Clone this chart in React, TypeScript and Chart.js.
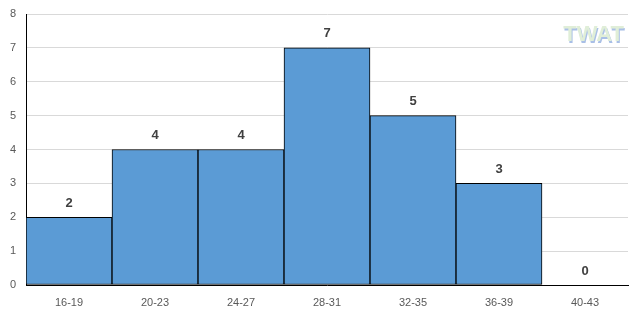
import React, { useEffect, useRef } from "react";
import { Chart, registerables } from "chart.js";

Chart.register(...registerables);

const categories = ["16-19", "20-23", "24-27", "28-31", "32-35", "36-39", "40-43"];
const counts = [2, 4, 4, 7, 5, 3, 0];
const yMax = 8;
const watermark = "TWAT";

const FONT = "'Liberation Sans', Arial, sans-serif";

const labelPlugin = {
  id: "barLabels",
  afterDatasetsDraw(chart: any) {
    const ctx = chart.ctx;
    const meta = chart.getDatasetMeta(0);
    ctx.save();
    ctx.font = `bold 13px ${FONT}`;
    ctx.fillStyle = "#404040";
    ctx.textAlign = "center";
    ctx.textBaseline = "middle";
    meta.data.forEach((bar: any, i: number) => {
      ctx.fillText(String(counts[i]), bar.x, bar.y - 14);
    });
    ctx.restore();
  },
};

const watermarkPlugin = {
  id: "watermark",
  afterDraw(chart: any) {
    const ctx = chart.ctx;
    const area = chart.chartArea;
    ctx.save();
    ctx.font = `bold 22px ${FONT}`;
    ctx.textAlign = "right";
    ctx.textBaseline = "alphabetic";
    const x = area.right - 4;
    const y = area.top + 27;
    ctx.fillStyle = "#a9bfe6";
    ctx.fillText(watermark, x + 1, y + 1.5);
    ctx.fillStyle = "#e0eed8";
    ctx.fillText(watermark, x, y);
    ctx.restore();
  },
};

export default function App() {
  const ref = useRef<HTMLCanvasElement>(null);
  useEffect(() => {
    if (!ref.current) return;
    const chart = new Chart(ref.current, {
      type: "bar",
      data: {
        labels: categories,
        datasets: [
          {
            data: counts,
            backgroundColor: "#5b9bd5",
            borderColor: "#000000",
            borderWidth: 1,
            borderSkipped: false,
            barPercentage: 1,
            categoryPercentage: 1,
          },
        ],
      },
      options: {
        animation: false,
        responsive: false,
        maintainAspectRatio: false,
        layout: { padding: { top: 14, right: 16, left: 0, bottom: 0 } },
        plugins: { legend: { display: false }, tooltip: { enabled: false } },
        scales: {
          x: {
            grid: { display: false },
            border: { color: "#000000", width: 1 },
            ticks: { color: "#595959", font: { family: FONT, size: 11 }, padding: 3 },
            afterFit(scale: any) {
              scale.height = 31;
              scale.paddingLeft = 0;
              scale.paddingRight = 0;
            },
          },
          y: {
            min: 0,
            max: yMax,
            ticks: { stepSize: 1, color: "#595959", font: { family: FONT, size: 11 }, padding: 10 },
            grid: { color: "#d9d9d9", drawTicks: false },
            border: { color: "#000000", width: 1 },
            afterFit(scale: any) {
              scale.width = 26;
              scale.paddingTop = 0;
              scale.paddingBottom = 0;
            },
          },
        },
      },
      plugins: [labelPlugin, watermarkPlugin],
    });
    return () => chart.destroy();
  }, []);
  return (
    <div style={{ position: "absolute", left: 0, top: 0, width: 644, height: 316, background: "#fff" }}>
      <canvas ref={ref} width={644} height={316} />
    </div>
  );
}
